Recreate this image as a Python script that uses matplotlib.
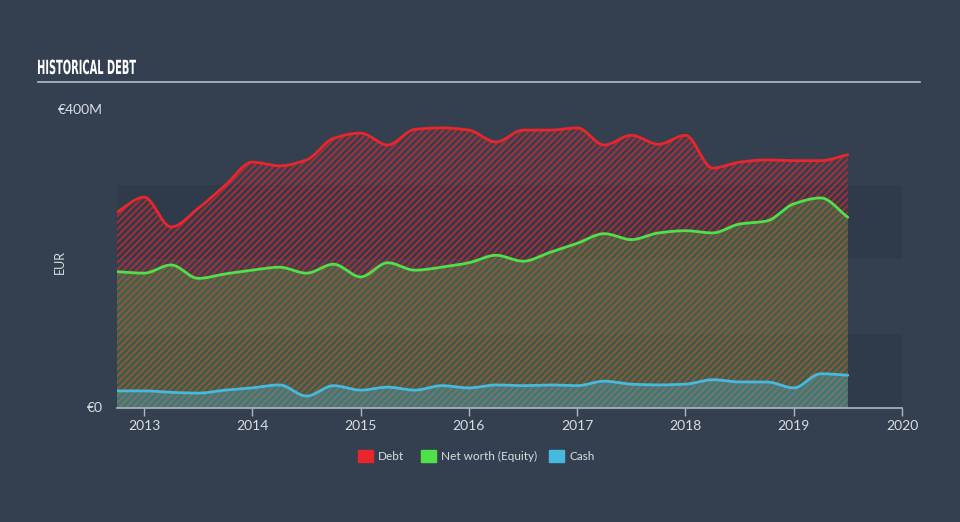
import numpy as np
import matplotlib
matplotlib.use("Agg")
import matplotlib.pyplot as plt
from matplotlib.patches import Rectangle, PathPatch
from matplotlib.textpath import TextPath
from matplotlib.font_manager import FontProperties
from matplotlib.transforms import Affine2D, IdentityTransform

# ---- data (EUR millions), quarterly ----
dates = [2012.75, 2013.0, 2013.25, 2013.5, 2013.75, 2014.0, 2014.25, 2014.5, 2014.75,
         2015.0, 2015.25, 2015.5, 2015.75, 2016.0, 2016.25, 2016.5, 2016.75,
         2017.0, 2017.25, 2017.5, 2017.75, 2018.0, 2018.25, 2018.5, 2018.75,
         2019.0, 2019.25, 2019.5]
debt = [263, 283, 243, 268, 299, 330, 325, 333, 362, 369, 353, 374, 376, 373, 357,
        373, 373, 376, 353, 366, 354, 366, 322, 330, 333, 332, 332, 340]
equity = [183, 181, 192, 174, 180, 185, 189, 181, 193, 176, 195, 185, 189, 195, 205,
          197, 209, 221, 234, 226, 235, 238, 235, 247, 251, 274, 282, 256]
cash = [23, 23, 21, 20, 24, 27, 31, 16, 30, 24, 28, 24, 30, 27, 31, 30, 31, 30, 36,
        32, 31, 32, 38, 35, 35, 27, 46, 44]
xticks = [2013, 2014, 2015, 2016, 2017, 2018, 2019, 2020]
series_names = ["Debt", "Net worth (Equity)", "Cash"]

BG = "#344050"
RED = "#e8262b"
GREEN = "#4fe04a"
CYAN = "#47b8de"
TXT = "#d9dde2"


def monotone(x, y, n=700):
    x = np.asarray(x, float)
    y = np.asarray(y, float)
    h = np.diff(x)
    d = np.diff(y) / h
    m = np.zeros_like(y)
    m[0], m[-1] = d[0], d[-1]
    for i in range(1, len(y) - 1):
        if d[i - 1] * d[i] <= 0:
            m[i] = 0
        else:
            w1 = 2 * h[i] + h[i - 1]
            w2 = h[i] + 2 * h[i - 1]
            m[i] = (w1 + w2) / (w1 / d[i - 1] + w2 / d[i])
    xs = np.linspace(x[0], x[-1], n)
    idx = np.clip(np.searchsorted(x, xs) - 1, 0, len(x) - 2)
    t = (xs - x[idx]) / h[idx]
    h00 = 2 * t**3 - 3 * t**2 + 1
    h10 = t**3 - 2 * t**2 + t
    h01 = -2 * t**3 + 3 * t**2
    h11 = t**3 - t**2
    ys = h00 * y[idx] + h10 * h[idx] * m[idx] + h01 * y[idx + 1] + h11 * h[idx] * m[idx + 1]
    return xs, ys


to_rgba = matplotlib.colors.to_rgba
plt.rcParams["hatch.linewidth"] = 1.5
fig = plt.figure(figsize=(9.6, 5.22), dpi=100, facecolor=BG)
ax = fig.add_axes([117 / 960, 1 - 408 / 522, (902 - 117) / 960, 298 / 522])
ax.set_facecolor(BG)
ax.set_xlim(2012.75, 2020)
ax.set_ylim(0, 400)

# alternating background bands
for lo, hi in [(0, 100), (200, 300)]:
    ax.axhspan(lo, hi, color="#2c3846", alpha=0.55, lw=0, zorder=0)

xs_d, ys_d = monotone(dates, debt)
xs_e, ys_e = monotone(dates, equity)
xs_c, ys_c = monotone(dates, cash)

# debt: red hatch
ax.fill_between(xs_d, 0, ys_d, facecolor="none", edgecolor=to_rgba(RED, 0.62),
                hatch="/////", linewidth=0, zorder=2)
# equity: green tint (+ faint hatch) over the red hatch
ax.fill_between(xs_e, 0, ys_e, facecolor=to_rgba(GREEN, 0.22), linewidth=0, zorder=2.1)
# cash: cyan tint
ax.fill_between(xs_c, 0, ys_c, facecolor=to_rgba(CYAN, 0.3), linewidth=0, zorder=2.2)

for xs, ys, col in [(xs_d, ys_d, RED), (xs_e, ys_e, GREEN), (xs_c, ys_c, CYAN)]:
    ax.plot(xs, ys, color=col, lw=2, zorder=3, solid_capstyle="round")

for s in ["top", "right", "left"]:
    ax.spines[s].set_visible(False)
ax.spines["bottom"].set_color("#aeb6c0")
ax.spines["bottom"].set_linewidth(1.2)
ax.set_xticks(xticks)
ax.set_xticklabels([str(v) for v in xticks])
ax.tick_params(axis="x", colors="#aeb6c0", length=6, width=1, labelcolor=TXT,
               labelsize=10, pad=3)
for lab in ax.get_xticklabels():
    lab.set_family("Lato")
ax.set_yticks([])

# y labels
fig.text(103 / 960, 1 - 110 / 522, "€400M", ha="right", va="center", color=TXT,
         fontsize=10, family="Lato")
fig.text(103 / 960, 1 - 408 / 522, "€0", ha="right", va="center", color=TXT,
         fontsize=10, family="Lato")
fig.text(60 / 960, 1 - 262 / 522, "EUR", ha="center", va="center", color=TXT,
         fontsize=9, rotation=90, family="Lato")

# title (condensed) drawn as a path scaled horizontally
tp = TextPath((0, 0), "HISTORICAL DEBT", size=19.5,
              prop=FontProperties(family="DejaVu Sans", weight="bold"))
ext = tp.get_extents()
sx = 98.0 / ext.width
tr = Affine2D().translate(-ext.x0, 0).scale(sx, 1.0).translate(38, 522 - 74)
fig.add_artist(PathPatch(tp, transform=tr + IdentityTransform(), color="white", lw=0))
fig.add_artist(plt.Line2D([38 / 960, 920 / 960], [1 - 82 / 522, 1 - 82 / 522],
                          color="#b8bec6", lw=1.2))

# legend
leg_items = [(358, RED), (421, GREEN), (549, CYAN)]
for (x0, col), name in zip(leg_items, series_names):
    fig.add_artist(Rectangle((x0 / 960, 1 - 462 / 522), 15 / 960, 12 / 522,
                             transform=fig.transFigure, color=col))
    fig.text((x0 + 20) / 960, 1 - 456 / 522, name, ha="left", va="center",
             color=TXT, fontsize=8.5, family="Lato")

fig.savefig("out.png", dpi=100, facecolor=BG)
